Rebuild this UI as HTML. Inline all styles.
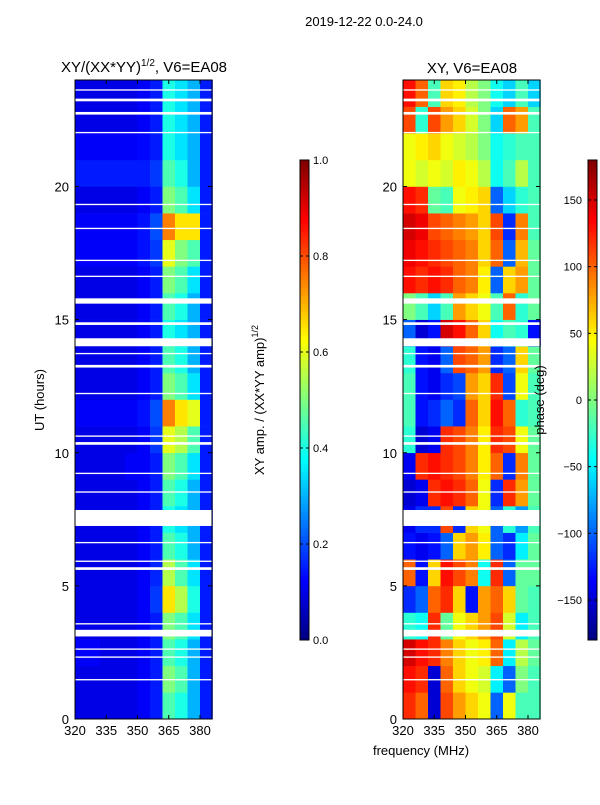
<!DOCTYPE html>
<html><head><meta charset="utf-8">
<style>
body{margin:0;background:#fff;font-family:"Liberation Sans","DejaVu Sans",sans-serif;}
svg text{font-family:"Liberation Sans","DejaVu Sans",sans-serif;}
</style></head>
<body>
<svg id="fig" width="600" height="800" xmlns="http://www.w3.org/2000/svg">
<rect width="600" height="800" fill="#fff"/>
<text x="364" y="26" font-size="13" text-anchor="middle">2019-12-22 0.0-24.0</text>
<text x="144" y="72" font-size="15" text-anchor="middle">XY/(XX*YY)<tspan font-size="10" dy="-6">1/2</tspan><tspan dy="6">, V6=EA08</tspan></text>
<text x="472" y="73" font-size="15" text-anchor="middle">XY, V6=EA08</text>
<text x="44" y="400" font-size="13" text-anchor="middle" transform="rotate(-90 44 400)">UT (hours)</text>
<text x="421" y="755" font-size="13" text-anchor="middle">frequency (MHz)</text>
<text x="264" y="400" font-size="13" text-anchor="middle" transform="rotate(-90 264 400)">XY amp. / (XX*YY amp)<tspan font-size="9" dy="-6">1/2</tspan></text>
<g id="left"></g>
<g id="right"></g>
<g id="cb"></g>
<g id="axes"></g>
<text x="544" y="400" font-size="13" text-anchor="middle" transform="rotate(-90 544 400)">phase (deg)</text>
</svg>
<script>
const freqs=[320,326,332,338,344,350,356,362,368,374,380];
const hours=[0,1,2,3,4,5,6,7,8,9,10,11,12,13,14,15,16,17,18,19,20,21,22,23];
const amp=[
[0.1,0.1,0.1,0.1,0.1,0.12,0.15,0.45,0.4,0.3,0.15],
[0.1,0.1,0.1,0.1,0.1,0.12,0.15,0.5,0.45,0.3,0.15],
[0.12,0.12,0.1,0.1,0.1,0.12,0.15,0.45,0.4,0.3,0.15],
[0.1,0.1,0.1,0.1,0.1,0.12,0.15,0.5,0.45,0.35,0.15],
[0.1,0.1,0.1,0.1,0.1,0.12,0.18,0.65,0.55,0.4,0.15],
[0.1,0.1,0.1,0.1,0.1,0.12,0.16,0.55,0.45,0.35,0.15],
[0.1,0.1,0.1,0.1,0.1,0.12,0.15,0.45,0.4,0.3,0.15],
[0.1,0.1,0.1,0.1,0.1,0.12,0.15,0.4,0.35,0.3,0.15],
[0.1,0.1,0.1,0.1,0.1,0.12,0.15,0.45,0.4,0.3,0.15],
[0.1,0.1,0.1,0.1,0.12,0.12,0.15,0.5,0.45,0.35,0.15],
[0.1,0.1,0.1,0.1,0.1,0.12,0.18,0.6,0.55,0.45,0.15],
[0.12,0.12,0.12,0.12,0.12,0.14,0.2,0.75,0.65,0.6,0.15],
[0.1,0.1,0.1,0.1,0.1,0.12,0.15,0.5,0.45,0.35,0.15],
[0.1,0.1,0.1,0.1,0.1,0.12,0.15,0.45,0.4,0.3,0.15],
[0.1,0.1,0.1,0.1,0.1,0.12,0.15,0.4,0.35,0.3,0.15],
[0.1,0.1,0.1,0.1,0.1,0.12,0.15,0.45,0.4,0.3,0.15],
[0.1,0.1,0.1,0.1,0.1,0.12,0.15,0.5,0.45,0.35,0.15],
[0.12,0.12,0.12,0.12,0.12,0.14,0.18,0.6,0.5,0.45,0.15],
[0.12,0.12,0.12,0.12,0.12,0.14,0.2,0.75,0.65,0.65,0.15],
[0.1,0.1,0.1,0.1,0.1,0.12,0.15,0.5,0.45,0.35,0.15],
[0.15,0.15,0.15,0.15,0.15,0.15,0.18,0.45,0.4,0.3,0.15],
[0.12,0.12,0.12,0.12,0.12,0.13,0.15,0.4,0.35,0.3,0.15],
[0.1,0.1,0.1,0.1,0.1,0.12,0.15,0.4,0.35,0.3,0.15],
[0.1,0.1,0.1,0.1,0.1,0.12,0.15,0.4,0.35,0.3,0.15]];
const phase=[
[120,100,-150,110,80,60,40,-100,40,-20,-20],
[130,120,-150,100,60,40,30,-50,-100,0,-20],
[150,130,120,90,60,40,50,100,-50,20,-10],
[-30,-40,120,-10,40,60,80,110,30,-50,-20],
[-120,-100,100,120,60,-130,80,100,60,-10,-20],
[100,-130,60,130,110,90,-40,120,-100,-10,-10],
[-130,-140,-130,-100,60,80,50,-100,-120,-50,-10],
[-140,-120,-120,110,-120,60,40,-100,-30,-80,-20],
[-150,-140,120,130,120,100,40,-120,120,80,-10],
[-140,120,130,120,110,90,50,100,-120,90,-10],
[-30,-150,-140,120,110,90,50,120,110,40,-10],
[-20,-130,-120,-100,-120,100,60,130,100,-30,-20],
[-20,-130,-140,-120,-110,80,60,120,-110,40,-20],
[-30,-130,-140,-100,110,100,80,-120,-100,60,-10],
[-100,-150,-130,150,130,100,60,-40,-20,-30,-130],
[0,-20,-60,-20,80,60,40,-20,100,-30,-10],
[130,120,130,120,100,90,50,-100,60,80,-10],
[140,130,120,110,100,90,60,100,-100,70,-10],
[150,140,110,100,90,80,60,110,-120,90,-20],
[130,120,-10,-20,40,50,60,-100,-60,-30,-20],
[40,30,40,30,50,40,20,-40,-20,20,-20],
[40,50,60,40,30,20,0,-40,-30,-20,-20],
[110,-30,110,80,60,30,0,-60,100,80,-20],
[130,100,-20,60,50,20,0,-40,-60,-20,-60]];
const gapStart=[1.45,2.3,2.6,3.1,3.55,5.6,5.9,6.6,7.25,8.5,9.2,10.3,10.6,12.2,13.2,13.7,14.0,14.8,15.6,16.6,17.2,18.4,19.3,22.0,22.7,23.2,23.6];
const gapEnd=[1.5,2.35,2.65,3.35,3.6,5.7,5.95,6.65,7.85,8.55,9.25,10.4,10.65,12.25,13.3,13.75,14.3,14.9,15.8,16.65,17.25,18.45,19.35,22.05,22.8,23.3,23.65];
const xTicks=[320,335,350,365,380];
const yTicks=[0,5,10,15,20];
const ampTicks=[0.0,0.2,0.4,0.6,0.8,1.0];
const phTicks=[-150,-100,-50,0,50,100,150];

const NS="http://www.w3.org/2000/svg";
function jet(v){v=Math.max(0,Math.min(1,v));
 const f=t=>Math.round(255*Math.max(0,Math.min(1,1.5-Math.abs(4*v-t))));
 return `rgb(${f(3)},${f(2)},${f(1)})`;}
const Y0=719,Y1=80,HMAX=24;
const yS=h=>Y0-(h/HMAX)*(Y0-Y1);
function mk(tag,at,p){const e=document.createElementNS(NS,tag);for(const k in at)e.setAttribute(k,at[k]);p.appendChild(e);return e;}
function panel(gid,x0,values,norm,nm){
 const g=document.getElementById(gid);
 const xS=f=>x0+(f-320)*(125/60);
 const fw=6;
 hours.forEach((h,i)=>freqs.forEach((f,j)=>{
  const r=mk('rect',{x:xS(f),y:yS(h+1),width:xS(f+fw)-xS(f)+0.3,height:yS(h)-yS(h+1)+0.3,fill:jet(norm(values[i][j]))},g);
  
  
 }));
 gapStart.forEach((s,k)=>{
  const r=mk('rect',{x:x0,y:yS(gapEnd[k]),width:137,height:yS(s)-yS(gapEnd[k]),fill:'#fff'},g);
  
  
 });
 const ax=document.getElementById('axes');
 mk('rect',{x:x0,y:Y1,width:137,height:Y0-Y1,fill:'none',stroke:'#000','stroke-width':1},ax);
 xTicks.forEach(t=>{const x=xS(t);
  mk('line',{x1:x,x2:x,y1:Y0,y2:Y0-4,stroke:'#000'},ax);mk('line',{x1:x,x2:x,y1:Y1,y2:Y1+4,stroke:'#000'},ax);
  const tx=mk('text',{x:x,y:Y0+16,'font-size':13,'text-anchor':'middle'},ax);tx.textContent=t;
  
  });
 yTicks.forEach(t=>{const y=yS(t);
  mk('line',{x1:x0,x2:x0+4,y1:y,y2:y,stroke:'#000'},ax);mk('line',{x1:x0+137,x2:x0+133,y1:y,y2:y,stroke:'#000'},ax);
  const tx=mk('text',{x:x0-6,y:y+5,'font-size':13,'text-anchor':'end'},ax);tx.textContent=t;
  
  });
}
panel('left',75,amp,v=>v,'amp');
panel('right',403,phase,v=>(v+180)/360,'phase');
function cbar(x,lo,hi,ticks,fmt,left){
 const g=document.getElementById('cb');const top=160,bot=640;
 for(let i=0;i<120;i++){const r=mk('rect',{x:x,y:bot-(i+1)*4,width:9,height:4.3,fill:jet((i+0.5)/120)},g);
  
  }
 mk('rect',{x:x,y:top,width:9,height:bot-top,fill:'none',stroke:'#000'},g);
 ticks.forEach(t=>{const y=bot-(t-lo)/(hi-lo)*(bot-top);
  mk('line',{x1:x,x2:x+3,y1:y,y2:y,stroke:'#000'},g);mk('line',{x1:x+9,x2:x+6,y1:y,y2:y,stroke:'#000'},g);
  const tx=mk('text',left?{x:x-6,y:y+4,'font-size':11,'text-anchor':'end'}:{x:x+13,y:y+4,'font-size':11},g);tx.textContent=fmt(t);
  
  });
}
cbar(300,0,1,ampTicks,t=>t.toFixed(1),false);
cbar(588,-180,180,phTicks,t=>t<0?'\u2212'+(-t):''+t,true);
</script>
</body></html>
